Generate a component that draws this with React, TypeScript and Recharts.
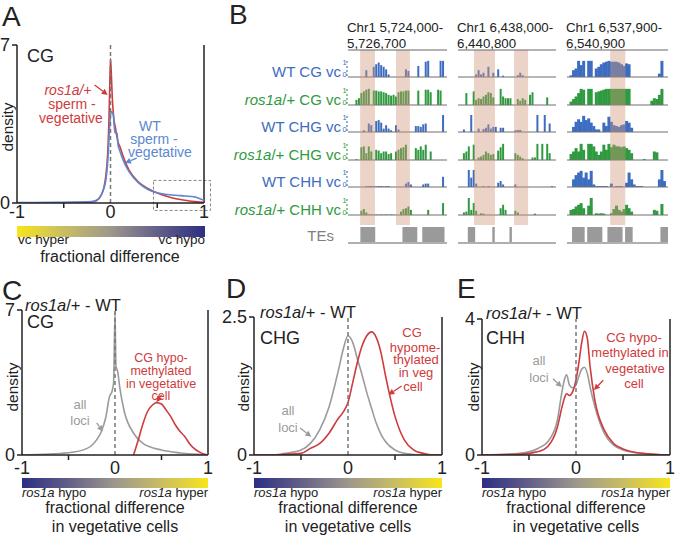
import React from 'react';
import { LineChart, Line, XAxis, YAxis, ReferenceLine, ReferenceArea, BarChart, Bar, AreaChart, Area } from 'recharts';

const FONT = '"Liberation Sans", Arial, Helvetica, sans-serif';
const AXIS = '#222';
const RED = '#cf3b3c';
const BLUE_A = '#5b88cf';
const GRAY = '#9b9b9b';
const TRACK_BLUE = '#3d6dc0';
const TRACK_GREEN = '#2f9a3f';
const TE_GRAY = '#9a9a9a';
const PINK = 'rgb(207,150,122)';

// ---- panel A: sperm - vegetative, CG ----
const aX = [-1, -0.6, -0.3, -0.2, -0.15, -0.1, -0.07, -0.05, -0.03, -0.02, -0.01, 0, 0.01, 0.02, 0.03, 0.04, 0.05, 0.07, 0.08, 0.1, 0.15, 0.2, 0.3, 0.4, 0.5, 0.6, 0.7, 0.8, 0.9, 0.95, 1];
const aRos = [0, 0.01, 0.03, 0.05, 0.1, 0.35, 0.7, 1.2, 2.2, 3.2, 4.8, 6.4, 5.6, 4.6, 4.0, 3.6, 3.4, 2.9, 2.7, 2.5, 1.9, 1.45, 0.93, 0.64, 0.44, 0.3, 0.19, 0.12, 0.06, 0.04, 0.03];
const aWT = [0.02, 0.03, 0.04, 0.06, 0.12, 0.35, 0.65, 1.0, 1.8, 2.5, 3.3, 3.9, 4.05, 4.0, 3.9, 3.4, 3.1, 3.1, 2.6, 2.3, 1.75, 1.38, 0.89, 0.6, 0.45, 0.38, 0.34, 0.31, 0.27, 0.2, 0.12];

// ---- panel C: ros1a/+ - WT, CG ----
const cGrayX = [-1, -0.5, -0.3, -0.2, -0.15, -0.1, -0.06, -0.03, -0.015, 0, 0.01, 0.03, 0.05, 0.1, 0.2, 0.3, 0.5, 0.7, 1];
const cGray = [0, 0.11, 0.32, 0.72, 1.1, 1.8, 2.8, 3.1, 3.5, 6.9, 4.3, 4.0, 3.3, 2.1, 1.05, 0.56, 0.24, 0.1, 0.02];
const cRedX = [0.2, 0.25, 0.3, 0.35, 0.4, 0.45, 0.5, 0.55, 0.6, 0.65, 0.7, 0.75, 0.8, 0.85, 0.9, 0.95, 1];
const cRed = [0, 0.72, 1.5, 2.1, 2.4, 2.53, 2.46, 2.17, 1.85, 1.45, 1.13, 0.89, 0.56, 0.32, 0.16, 0.05, 0];

// ---- panel D: CHG ----
const dX = [-1, -0.8, -0.7, -0.5, -0.4, -0.3, -0.2, -0.1, -0.05, 0, 0.05, 0.1, 0.15, 0.2, 0.25, 0.3, 0.35, 0.4, 0.5, 0.6, 0.7, 0.8, 0.9, 1];
const dGray = [0, 0, 0.02, 0.09, 0.21, 0.46, 0.88, 1.55, 1.92, 2.16, 2.04, 1.74, 1.45, 1.13, 0.85, 0.58, 0.38, 0.24, 0.09, 0.03, 0.01, 0, 0, 0];
const dRed = [0, 0, 0.01, 0.03, 0.12, 0.21, 0.4, 0.67, 0.78, 0.95, 1.31, 1.68, 1.98, 2.16, 2.23, 2.13, 1.86, 1.43, 0.7, 0.27, 0.09, 0.03, 0, 0];

// ---- panel E: CHH ----
const eX = [-1, -0.6, -0.4, -0.3, -0.2, -0.15, -0.12, -0.1, -0.07, -0.03, 0, 0.03, 0.06, 0.09, 0.12, 0.15, 0.2, 0.3, 0.4, 0.5, 0.7, 1];
const eGray = [0, 0.05, 0.2, 0.39, 1.0, 1.85, 2.25, 2.36, 2.06, 1.97, 2.06, 2.31, 2.52, 2.58, 2.4, 2.0, 1.43, 0.64, 0.29, 0.15, 0.05, 0];
const eRed = [0, 0.02, 0.1, 0.25, 0.8, 1.4, 1.7, 1.8, 1.75, 1.9, 2.21, 2.7, 3.29, 3.64, 3.44, 2.6, 1.62, 0.74, 0.34, 0.18, 0.05, 0];

// ---- panel B: browser tracks, 40 bins per region ----
const BINS = 40;
const regionStart = ['5,724,000', '6,438,000', '6,537,900'];
const regionEnd = ['5,726,700', '6,440,800', '6,540,900'];
const rowGeno = ['WT', 'ros1a/+', 'WT', 'ros1a/+', 'WT', 'ros1a/+'];
const rowContext = ['CG', 'CG', 'CHG', 'CHG', 'CHH', 'CHH'];

const c1WtCG = [0,0,0,0,0,0,0,.4,0,0, .6,.75,.85,.7,.6,.45,.15,0,0,0, 0,0,0,.45,.35,0,0,0,.65,0, 0,.9,.95,0,0,0,0,.95,.95,0];
const c1RosCG = [0,0,0,.3,.4,.7,.8,.9,.95,0, .85,.85,.8,.8,.75,.7,.6,.55,.6,.5, .75,.8,.8,.85,.85,0,0,0,.85,0, 0,.9,.9,.75,0,0,.9,.85,0,0];
const c1WtCHG = [0,0,0,0,0,0,.1,0,.5,.4, 0,.65,.7,.55,.2,.4,.2,.1,0,.4, .15,0,0,0,0,0,0,.35,.35,.3, .45,.5,0,0,0,0,0,0,1,0];
const c1RosCHG = [0,0,0,.05,0,.75,.8,.4,.8,.5, 0,.6,.55,.4,.5,.5,.35,.4,0,.5, .6,.7,.75,.9,0,0,0,.7,.6,.8, .6,.9,0,.5,0,0,0,0,0,0];
const c1WtCHH = [0,0,0,0,0,0,0,.05,.05,.06, .05,.04,.06,.05,.04,.05,.06,0,0,0, 0,0,0,.2,.3,.15,0,0,0,0, .15,.2,.2,0,0,0,0,0,.6,0];
const c1RosCHH = [0,0,0,0,0,.25,.35,.15,.03,.03, .02,.03,.02,.03,.02,.03,.02,.03,.02,0, 0,.2,.35,.4,.5,.3,0,0,0,0, 0,0,.3,0,0,0,0,0,.7,0];
const c1TE = [0,0,0,0,0,1,1,1,1,1, 1,0,0,0,0,0,0,0,0,0, 0,0,1,1,1,1,1,1,0,0, 1,1,1,1,1,1,1,1,1,0];
const c1Pink = [[4.9, 10.9], [19.4, 25]];

const c2WtCG = [0,0,0,0,0,0,0,.15,.4,.15, .25,0,.6,0,.25,0,.45,0,.08,0, 0,0,0,0,.1,.25,.1,0,0,0, 0,0,0,0,0,0,0,0,0,0];
const c2RosCG = [0,0,0,.7,0,0,.8,.3,.4,.35, .5,.6,.75,.7,.45,0,0,.95,.5,.4, .4,.4,0,0,.35,.25,.4,.3,0,.6, .75,0,0,0,0,0,.45,0,0,0];
const c2WtCHG = [0,0,.15,0,0,1,0,0,.2,0, .18,.25,.45,.2,.3,.3,0,.25,.25,0, 0,0,0,.1,.12,.12,0,0,0,0, 0,0,1,0,0,1,0,.5,0,0];
const c2RosCHG = [0,0,.4,.5,.8,0,.9,0,.15,.2, .3,.5,.4,.3,.35,0,.55,.75,.95,0, 0,0,0,.4,.3,.2,.1,0,0,0, .15,.15,.95,0,.95,0,.95,.4,0,0];
const c2WtCHH = [0,0,0,0,1,.55,1,.2,0,0, .05,0,.05,0,0,0,.25,.35,.15,0, 0,0,0,.15,0,0,0,0,0,0, 0,0,0,0,0,0,0,0,.05,0];
const c2RosCHH = [0,0,.15,.2,1,.3,.7,.25,0,.1, .08,0,0,0,0,0,0,.4,.6,.3, 0,0,0,.25,.15,0,0,0,0,0, 0,.08,0,0,0,0,0,0,0,0];
const c2TE = [0,0,0,0,1,1,1,0,0,0, 0,0,0,0,1,0,0,0,0,0, 0,1,0,0,0,0,0,0,0,0, 0,0,0,0,0,0,0,0,0,0];
const c2Pink = [[6.5, 15.1], [22.9, 28.6]];

const c3WtCG = [0,.1,.4,.5,.95,.7,.95,0,.95,.95, 0,.5,.6,.75,.85,.9,.95,.9,.9,.9, .85,.75,.65,.8,.75,0,0,0,0,0, 0,0,0,0,0,0,.2,.95,0,0];
const c3RosCG = [0,.2,.35,.5,.7,.95,.9,0,.95,.95, 0,.75,.8,.85,.9,.95,.95,.95,.95,.95, .95,.95,.95,.95,.95,0,0,0,0,0, 0,0,0,.25,.4,.35,.6,.95,0,0];
const c3WtCHG = [0,0,.3,.6,.75,.6,.95,.7,.8,.55, .35,.15,.15,0,.55,.35,.9,.6,.4,.35, .3,.4,.45,.65,.55,.25,0,0,0,0, 0,0,0,0,0,0,0,0,0,0];
const c3RosCHG = [0,.35,.5,.7,.5,.95,.6,0,.95,.95, .8,.5,.3,.5,.9,.6,.95,.75,.9,.8, .8,.75,.8,.7,.6,.4,0,0,0,0, .05,0,0,0,.5,.45,0,0,0,0];
const c3WtCHH = [0,0,.45,.7,.85,.95,.55,.85,.45,.95, .15,.05,.05,.05,.05,.05,0,.2,0,.05, .05,.05,0,.25,.85,.45,.15,.05,.05,.05, 0,0,0,0,0,0,.45,1,.35,0];
const c3RosCHH = [0,.3,.35,.5,.6,.7,.4,0,.55,1, 0,.1,.08,.1,.08,0,0,.1,.35,.55, .3,.2,.35,.6,.4,.2,0,0,0,0, 0,0,0,0,.3,.25,0,.65,0,0];
const c3TE = [0,0,1,1,1,1,1,0,1,1, 1,1,1,1,0,0,1,1,1,1, 1,1,0,1,1,1,0,0,0,0, 0,0,0,0,0,0,0,1,1,1];
const c3Pink = [[17.1, 23.1]];

const columns = [
  { left: 348, width: 99, tracks: [c1WtCG, c1RosCG, c1WtCHG, c1RosCHG, c1WtCHH, c1RosCHH], te: c1TE, pink: c1Pink },
  { left: 458, width: 98, tracks: [c2WtCG, c2RosCG, c2WtCHG, c2RosCHG, c2WtCHH, c2RosCHH], te: c2TE, pink: c2Pink },
  { left: 567, width: 101, tracks: [c3WtCG, c3RosCG, c3WtCHG, c3RosCHG, c3WtCHH, c3RosCHH], te: c3TE, pink: c3Pink },
];
const ROW0 = 77;
const ROW_STEP = 27.6;

const mergeSeries = (series: { key: string; xs: number[]; ys: number[] }[]) => {
  const xs = Array.from(new Set(series.flatMap((s) => s.xs))).sort((a, b) => a - b);
  return xs.map((x) => {
    const row: Record<string, number | null> = { x };
    series.forEach((s) => {
      const i = s.xs.indexOf(x);
      row[s.key] = i >= 0 ? s.ys[i] : null;
    });
    return row;
  });
};

const T = ({ x, y, size = 16, color = AXIS, align = 'left', rotate = false, italic = false, children }: any) => {
  const tx = align === 'left' ? '0' : align === 'center' ? '-50%' : '-100%';
  return (
    <div
      style={{
        position: 'absolute', left: x, top: y, fontSize: size, color, lineHeight: 1, whiteSpace: 'nowrap',
        fontStyle: italic ? 'italic' : 'normal',
        transform: rotate ? 'translate(-50%,-50%) rotate(-90deg)' : `translate(${tx},-50%)`,
      }}
    >
      {children}
    </div>
  );
};

const arrowShape = (color: string) => (p: any) => {
  const { x1, y1, x2, y2 } = p;
  const ang = Math.atan2(y2 - y1, x2 - x1);
  const L = 6;
  const W = 3;
  const bx = x2 - L * Math.cos(ang);
  const by = y2 - L * Math.sin(ang);
  const pts = `${x2},${y2} ${bx - W * Math.sin(ang)},${by + W * Math.cos(ang)} ${bx + W * Math.sin(ang)},${by - W * Math.cos(ang)}`;
  return (
    <g>
      <line x1={x1} y1={y1} x2={bx} y2={by} stroke={color} strokeWidth={1.3} />
      <polygon points={pts} fill={color} />
    </g>
  );
};

const XTick = ({ x, y, payload, gap }: any) => {
  const v = payload.value;
  if (Math.abs(v) === 0.5) return <line x1={x} x2={x} y1={y} y2={y + 5} stroke={AXIS} strokeWidth={1.5} />;
  return (
    <text x={x} y={y + gap} textAnchor="middle" dominantBaseline="central" fontSize={18} fill={AXIS} fontFamily={FONT}>
      {v}
    </text>
  );
};

const PADL = 40;

const DensityPanel = ({ left, top, right, bottom, yMax, data, lines, arrows, gap, box }: any) => {
  const w = right - left + PADL + 10;
  const h = bottom - top + 34;
  return (
    <div style={{ position: 'absolute', left: left - PADL, top: top - 10 }}>
      <LineChart width={w} height={h} data={data} margin={{ top: 10, right: 10, bottom: 0, left: 0 }}>
        <XAxis
          type="number" dataKey="x" domain={[-1, 1]} ticks={[-1, -0.5, 0, 0.5, 1]} interval={0}
          tickLine={false} tickSize={0} tickMargin={0} height={24} allowDataOverflow
          axisLine={{ stroke: AXIS, strokeWidth: 1.5 }}
          tick={(p: any) => <XTick {...p} gap={gap} />}
        />
        <YAxis
          type="number" domain={[0, yMax]} ticks={[0, yMax]} interval={0} width={PADL} tickSize={5} tickMargin={2}
          allowDataOverflow axisLine={{ stroke: AXIS, strokeWidth: 1.5 }} tickLine={{ stroke: AXIS, strokeWidth: 1.5 }}
          tick={{ fontSize: 18, fill: AXIS, fontFamily: FONT }}
        />
        <ReferenceLine x={1} stroke={AXIS} strokeWidth={1.5} />
        {box && (
          <ReferenceArea x1={box[0]} x2={box[1]} y1={box[2]} y2={box[3]} fill="none" stroke="#888" strokeDasharray="3 2" ifOverflow="visible" />
        )}
        {lines.map((l: any) => (
          <Line key={l.key} dataKey={l.key} stroke={l.color} strokeWidth={1.6} dot={false} type="monotone" connectNulls isAnimationActive={false} />
        ))}
        <ReferenceLine x={0} stroke="#777" strokeDasharray="4 3" strokeWidth={1.5} />
        {arrows.map((a: any, i: number) => (
          <ReferenceLine
            key={i}
            segment={[{ x: a.from[0], y: a.from[1] }, { x: a.to[0], y: a.to[1] }]}
            shape={arrowShape(a.color)}
            ifOverflow="visible"
          />
        ))}
      </LineChart>
    </div>
  );
};

const Track = ({ left, base, width, values, color }: any) => {
  const data = values.map((v: number, i: number) => ({ i, v }));
  return (
    <div style={{ position: 'absolute', left, top: base - 18 }}>
      <BarChart width={width} height={19} data={data} margin={{ top: 1, right: 0, bottom: 1, left: 0 }} barCategoryGap={0} barGap={0}>
        <XAxis dataKey="i" hide />
        <YAxis hide domain={[0, 1]} />
        <ReferenceLine y={0} stroke="#6f6f6f" strokeWidth={1} />
        <Bar dataKey="v" fill={color} isAnimationActive={false} />
      </BarChart>
    </div>
  );
};

// TE boxes as a step area so adjacent bins join into solid blocks
const TeTrack = ({ left, width, values }: any) => {
  const data = [...values.map((v: number, i: number) => ({ x: i, v })), { x: BINS, v: 0 }];
  return (
    <div style={{ position: 'absolute', left, top: 226 }}>
      <AreaChart width={width} height={19} data={data} margin={{ top: 1, right: 0, bottom: 2, left: 0 }}>
        <XAxis type="number" dataKey="x" domain={[0, BINS]} hide />
        <YAxis hide domain={[0, 1]} />
        <Area type="stepAfter" dataKey="v" fill={TE_GRAY} fillOpacity={1} stroke="none" isAnimationActive={false} />
        <ReferenceLine y={0} stroke="#b0b0b0" strokeWidth={2} />
      </AreaChart>
    </div>
  );
};

const Overlay = ({ left, width, spans }: any) => {
  const data = [{ x: 0, y: 0 }, { x: BINS, y: 1 }];
  const ruler = Array.from({ length: BINS / 4 + 1 }, (_, i) => i * 4);
  return (
    <div style={{ position: 'absolute', left, top: 45 }}>
      <LineChart width={width} height={180} data={data} margin={{ top: 0, right: 0, bottom: 0, left: 0 }}>
        <XAxis type="number" dataKey="x" domain={[0, BINS]} orientation="top" height={5} ticks={ruler} interval={0} tickSize={3} tick={false} stroke="#666" />
        <YAxis hide type="number" domain={[0, 1]} />
        <Line dataKey="y" stroke="none" dot={false} isAnimationActive={false} />
        {spans.map((s: number[], i: number) => (
          <ReferenceArea key={i} x1={s[0]} x2={s[1]} y1={0} y2={1} fill={PINK} fillOpacity={0.42} stroke="none" ifOverflow="visible" />
        ))}
      </LineChart>
    </div>
  );
};

const Colorbar = ({ left, top, width, height, reverse }: any) => {
  const stops = ['#f8e51b', '#c9bd63', '#9d978c', '#625f88', '#2c2f83'];
  const s = reverse ? [...stops].reverse() : stops;
  return (
    <div style={{ position: 'absolute', left, top, width, height, background: `linear-gradient(to right, ${s.join(', ')})` }} />
  );
};

const Ros = () => <i>ros1a</i>;

const BottomLabels = ({ left, right }: any) => (
  <>
    <Colorbar left={left} top={478} width={right - left} height={10} reverse />
    <T x={left} y={492} size={13}><Ros /> hypo</T>
    <T x={right} y={492} size={13} align="right"><Ros /> hyper</T>
    <T x={(left + right) / 2} y={508} size={16} align="center">fractional difference</T>
    <T x={(left + right) / 2} y={527} size={16} align="center">in vegetative cells</T>
  </>
);

export default function App() {
  const aTable = aX.map((x, i) => ({ x, ros: aRos[i], wt: aWT[i] }));
  const cTable = mergeSeries([
    { key: 'all', xs: cGrayX, ys: cGray },
    { key: 'hypo', xs: cRedX, ys: cRed },
  ]);
  const dTable = dX.map((x, i) => ({ x, all: dGray[i], hypo: dRed[i] }));
  const eTable = eX.map((x, i) => ({ x, all: eGray[i], hypo: eRed[i] }));
  const grayRed = [
    { key: 'all', color: GRAY },
    { key: 'hypo', color: RED },
  ];

  return (
    <div style={{ position: 'absolute', left: 0, top: 0, width: 677, height: 538, overflow: 'hidden', background: '#fff', fontFamily: FONT, color: AXIS }}>
      {/* panel letters */}
      <T x={2} y={17} size={28}>A</T>
      <T x={229} y={15} size={28}>B</T>
      <T x={2} y={291} size={28}>C</T>
      <T x={226} y={289} size={28}>D</T>
      <T x={457} y={289} size={28}>E</T>

      {/* ---- A ---- */}
      <DensityPanel
        left={17} top={45} right={204} bottom={203} yMax={7} data={aTable} gap={9}
        lines={[{ key: 'ros', color: RED }, { key: 'wt', color: BLUE_A }]}
        box={[0.46, 1.07, -0.33, 1.0]}
        arrows={[
          { from: [-0.17, 5.23], to: [-0.03, 4.79], color: RED },
          { from: [0.28, 1.99], to: [0.155, 1.77], color: BLUE_A },
        ]}
      />
      <T x={27} y={56} size={18}>CG</T>
      <T x={8} y={127} size={15.5} rotate>density</T>
      <T x={68} y={90} size={14} color={RED} align="center" italic>ros1a/+</T>
      <T x={72} y={104} size={14} color={RED} align="center">sperm -</T>
      <T x={71} y={117.5} size={14} color={RED} align="center">vegetative</T>
      <T x={150} y={126} size={14} color={BLUE_A} align="center">WT</T>
      <T x={154} y={139} size={14} color={BLUE_A} align="center">sperm -</T>
      <T x={160} y={152} size={14} color={BLUE_A} align="center">vegetative</T>
      <Colorbar left={17} top={226} width={188} height={11} />
      <T x={18} y={240} size={13.5}>vc hyper</T>
      <T x={205} y={240} size={13.5} align="right">vc hypo</T>
      <T x={110} y={257} size={16} align="center">fractional difference</T>

      {/* ---- B ---- */}
      {columns.map((col, ci) => (
        <React.Fragment key={`h${ci}`}>
          <T x={col.left - 1} y={28} size={13.3}>Chr1 {regionStart[ci]}-</T>
          <T x={col.left - 1} y={44} size={13.3}>{regionEnd[ci]}</T>
        </React.Fragment>
      ))}
      {rowGeno.map((g, ri) => {
        const base = ROW0 + ri * ROW_STEP;
        const c = g === 'WT' ? TRACK_BLUE : TRACK_GREEN;
        return (
          <React.Fragment key={`r${ri}`}>
            <T x={341} y={base - 6} size={15} color={c} align="right">
              {g === 'WT' ? 'WT' : <><Ros />/+</>} {rowContext[ri]} vc
            </T>
            <T x={342.5} y={base - 14} size={7.5} color={c}>1</T>
            <T x={342.5} y={base - 2} size={7.5} color={c}>0</T>
            <div style={{ position: 'absolute', left: 346, top: base - 16, height: 15, borderLeft: `2px dotted ${c}`, opacity: 0.55 }} />
            {columns.map((col, ci) => (
              <Track key={ci} left={col.left} base={base} width={col.width} values={col.tracks[ri]} color={c} />
            ))}
          </React.Fragment>
        );
      })}
      <T x={334} y={235} size={15} color="#808080" align="right">TEs</T>
      {columns.map((col, ci) => (
        <TeTrack key={`te${ci}`} left={col.left} width={col.width} values={col.te} />
      ))}
      {columns.map((col, ci) => (
        <Overlay key={`o${ci}`} left={col.left} width={col.width} spans={col.pink} />
      ))}

      {/* ---- C ---- */}
      <DensityPanel
        left={22} top={310} right={208} bottom={455} yMax={7} data={cTable} gap={13} lines={grayRed}
        arrows={[
          { from: [-0.196, 1.55], to: [-0.13, 1.13], color: GRAY },
          { from: [0.5, 2.9], to: [0.446, 2.55], color: RED },
        ]}
      />
      <T x={25} y={305} size={16.5}><Ros />/+ - WT</T>
      <T x={27} y={322} size={18}>CG</T>
      <T x={13} y={387} size={15.5} rotate>density</T>
      <T x={80} y={404} size={13} color={GRAY} align="center">all</T>
      <T x={80} y={420} size={13} color={GRAY} align="center">loci</T>
      <T x={161} y={358} size={12.5} color={RED} align="center">CG hypo-</T>
      <T x={161} y={371} size={12.5} color={RED} align="center">methylated</T>
      <T x={161} y={383.5} size={12.5} color={RED} align="center">in vegetative</T>
      <T x={161} y={395.5} size={12.5} color={RED} align="center">cell</T>
      <BottomLabels left={22} right={208} />

      {/* ---- D ---- */}
      <DensityPanel
        left={254} top={317} right={442} bottom={455} yMax={2.5} data={dTable} gap={13} lines={grayRed}
        arrows={[
          { from: [-0.51, 0.49], to: [-0.39, 0.33], color: GRAY },
          { from: [0.57, 1.25], to: [0.43, 1.09], color: RED },
        ]}
      />
      <T x={260} y={312} size={16.5}><Ros />/+ - WT</T>
      <T x={260} y={338} size={18}>CHG</T>
      <T x={244} y={387} size={15.5} rotate>density</T>
      <T x={288} y={410} size={13} color={GRAY} align="center">all</T>
      <T x={288} y={427} size={13} color={GRAY} align="center">loci</T>
      <T x={412} y={332} size={13} color={RED} align="center">CG</T>
      <T x={415} y={346.5} size={13} color={RED} align="center">hypome-</T>
      <T x={416} y={359} size={13} color={RED} align="center">thylated</T>
      <T x={416} y={372} size={13} color={RED} align="center">in veg</T>
      <T x={413} y={386} size={13} color={RED} align="center">cell</T>
      <BottomLabels left={254} right={442} />

      {/* ---- E ---- */}
      <DensityPanel
        left={482} top={319} right={670} bottom={455} yMax={4} data={eTable} gap={13} lines={grayRed}
        arrows={[
          { from: [-0.245, 2.24], to: [-0.15, 2.0], color: GRAY },
          { from: [0.29, 2.2], to: [0.19, 1.91], color: RED },
        ]}
      />
      <T x={486} y={313} size={16.5}><Ros />/+ - WT</T>
      <T x={486} y={338} size={18}>CHH</T>
      <T x={474} y={387} size={15.5} rotate>density</T>
      <T x={539} y={360} size={13} color={GRAY} align="center">all</T>
      <T x={539} y={377} size={13} color={GRAY} align="center">loci</T>
      <T x={634} y={337} size={13} color={RED} align="center">CG hypo-</T>
      <T x={630} y={352} size={13} color={RED} align="center">methylated in</T>
      <T x={635} y={368} size={13} color={RED} align="center">vegetative</T>
      <T x={634} y={383} size={13} color={RED} align="center">cell</T>
      <BottomLabels left={482} right={670} />
    </div>
  );
}
